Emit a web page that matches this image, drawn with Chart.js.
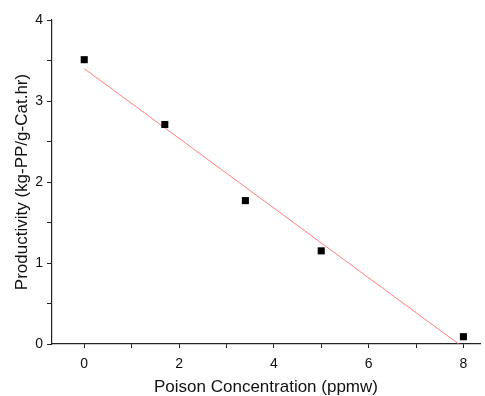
<!DOCTYPE html>
<html><head><meta charset="utf-8">
<script src="https://cdn.jsdelivr.net/npm/chart.js@4"></script>
<style>html,body{margin:0;padding:0;background:#fff}#wrap{width:485px;height:396px}</style>
</head><body><div id="wrap"><canvas id="c" width="485" height="396"></canvas></div>
<script>
const concX = [0, 1.7, 3.4, 5.0, 8.0];
const productivityY = [3.51, 2.71, 1.77, 1.15, 0.09];
const fitX = [0, 7.9];
const fitY = [3.40, 0];
const xTickLabels = [0, 2, 4, 6, 8];
const yTickLabels = [0, 1, 2, 3, 4];

const fam = "'Liberation Sans', Arial, sans-serif";
const tickFont = {family: fam, size: 14};
const titleFont = {family: fam, size: 17, lineHeight: 1.0};
new Chart(document.getElementById('c'), {
  type: 'scatter',
  data: {
    datasets: [
      {data: fitX.map((x,i)=>({x, y: fitY[i]})), showLine: true, borderColor: '#ff7f7f', borderWidth: 1, pointRadius: 0, order: 2},
      {data: concX.map((x,i)=>({x, y: productivityY[i]})), pointStyle: 'rect', pointRadius: 5, backgroundColor: '#000', borderColor: '#000', borderWidth: 0, order: 1}
    ]
  },
  options: {
    responsive: false, animation: false,
    layout: {padding: {top: 20, right: 0, left: 14, bottom: 0}},
    plugins: {legend: {display: false}, tooltip: {enabled: false}},
    scales: {
      x: {
        type: 'linear', min: -0.68, max: 8.35,
        afterBuildTicks: s => { const t=[]; for (let v=0; v<=8; v++) t.push({value:v}); s.ticks = t; },
        afterFit: s => { s.height = 52; },
        ticks: {font: tickFont, color: '#111', padding: 8, maxRotation: 0, callback: v => xTickLabels.includes(v) ? String(v) : ''},
        grid: {display: true, drawOnChartArea: false, drawTicks: true, tickLength: 4, color: '#222', tickColor: '#222'},
        border: {display: true, color: '#222', width: 1.2},
        title: {display: true, text: 'Poison Concentration (ppmw)', font: titleFont, color: '#111', padding: {top: 2, bottom: 0}}
      },
      y: {
        type: 'linear', min: 0, max: 4,
        afterBuildTicks: s => { const t=[]; for (let v=0; v<=8; v++) t.push({value:v/2}); s.ticks = t; },
        afterFit: s => { s.width = 38; },
        ticks: {font: tickFont, color: '#111', padding: 4, callback: v => yTickLabels.includes(v) ? String(v) : ''},
        grid: {display: true, drawOnChartArea: false, drawTicks: true, tickLength: 5, color: '#222', tickColor: '#222'},
        border: {display: true, color: '#222', width: 1.2},
        title: {display: true, text: 'Productivity (kg-PP/g-Cat.hr)', font: titleFont, color: '#111', padding: {top: 0, bottom: 4}}
      }
    }
  }
});
</script></body></html>
